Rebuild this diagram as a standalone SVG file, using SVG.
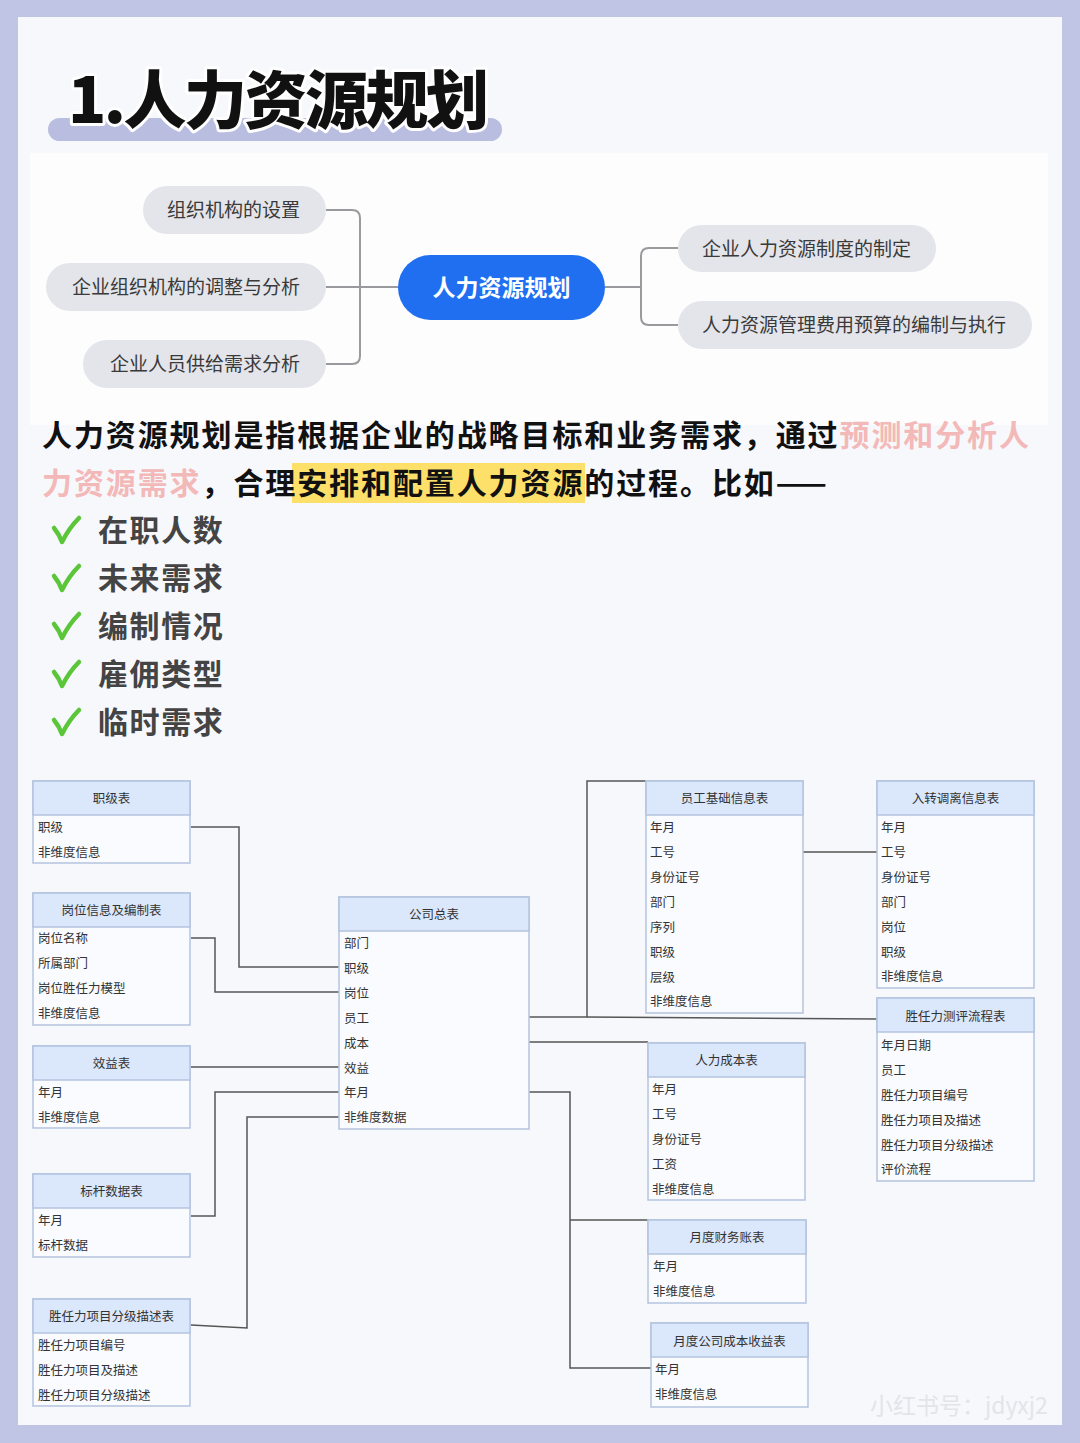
<svg xmlns="http://www.w3.org/2000/svg" width="1080" height="1443" viewBox="0 0 1080 1443">
<style>
.cjk{font-family:"Noto Sans CJK SC","Noto Sans",sans-serif}
.mm{fill:#e4e5ea}
.mmt{font-family:"Noto Sans CJK SC",sans-serif;font-size:19px;fill:#3a3a3a}
.tb{fill:#f9fbff;stroke:#b4c3de;stroke-width:1.5}
.th{fill:#dbe7fb;stroke:#b4c3de;stroke-width:1.5}
.tht{font-family:"Noto Sans CJK SC",sans-serif;font-size:12.5px;fill:#333;text-anchor:middle}
.tr{font-family:"Noto Sans CJK SC",sans-serif;font-size:12.5px;fill:#333}
.cn{fill:none;stroke:#555;stroke-width:1.5}
.mc{fill:none;stroke:#9a9a9e;stroke-width:2}
.p{font-family:"Noto Sans CJK SC",sans-serif;font-size:30px;font-weight:700;fill:#111;letter-spacing:1.9px}
.pink{fill:#f3b8b8}
.li{font-family:"Noto Sans CJK SC",sans-serif;font-size:30px;font-weight:700;fill:#444;letter-spacing:1.6px}
.ck{fill:none;stroke:#5cc63a;stroke-width:4.5;stroke-linecap:round;stroke-linejoin:round}
</style>
<rect x="0" y="0" width="1080" height="1443" fill="#c1c5e5"/>
<rect x="18" y="17" width="1044" height="1408" fill="#f7f8fc"/>
<rect x="30" y="153" width="1018" height="272" fill="#fdfdfe"/>

<g id="title">
<rect x="48" y="118" width="454" height="23" rx="11.5" fill="#b9bde0"/>
<text x="68" y="123" font-family="Noto Sans CJK SC,sans-serif" font-size="63" font-weight="900" fill="#111" stroke="#fff" stroke-width="6" paint-order="stroke" stroke-linejoin="round" letter-spacing="-2.5">1.人力资源规划</text>
</g>

<g id="mindmap-connectors">
<path class="mc" d="M326,210 H352 Q360,210 360,218 V356 Q360,364 352,364 H326"/>
<path class="mc" d="M326,287 H398"/>
<path class="mc" d="M605,287 H641"/>
<path class="mc" d="M678,248 H649 Q641,248 641,256 V317 Q641,325 649,325 H678"/>
</g>
<g id="mm-center">
<rect x="398" y="255" width="207" height="65" rx="32.5" fill="#1f6ff0"/>
<text x="501.5" y="296" font-family="Noto Sans CJK SC,sans-serif" font-size="23" font-weight="700" fill="#fff" text-anchor="middle">人力资源规划</text>
</g>
<g id="mm-1"><rect class="mm" x="143" y="186" width="183" height="48" rx="24"/><text class="mmt" x="300" y="217" text-anchor="end">组织机构的设置</text></g>
<g id="mm-2"><rect class="mm" x="46" y="263" width="280" height="48" rx="24"/><text class="mmt" x="300" y="294" text-anchor="end">企业组织机构的调整与分析</text></g>
<g id="mm-3"><rect class="mm" x="83" y="340" width="243" height="48" rx="24"/><text class="mmt" x="300" y="371" text-anchor="end">企业人员供给需求分析</text></g>
<g id="mm-4"><rect class="mm" x="678" y="225" width="258" height="47" rx="23.5"/><text class="mmt" x="702" y="256">企业人力资源制度的制定</text></g>
<g id="mm-5"><rect class="mm" x="678" y="301" width="354" height="48" rx="24"/><text class="mmt" x="702" y="332">人力资源管理费用预算的编制与执行</text></g>

<g id="paragraph">
<rect x="292" y="463" width="293" height="40" fill="#fde06a"/>
<text class="p" x="42" y="446">人力资源规划是指根据企业的战略目标和业务需求，通过<tspan class="pink">预测和分析人</tspan></text>
<text class="p" x="42" y="494"><tspan class="pink">力资源需求</tspan>，合理安排和配置人力资源的过程。比如——</text>
</g>

<g id="checklist">
<path class="ck" d="M54,528 Q59,534 62,542 Q69,528 79,518"/>
<text class="li" x="98" y="541">在职人数</text>
<path class="ck" d="M54,576 Q59,582 62,590 Q69,576 79,566"/>
<text class="li" x="98" y="589">未来需求</text>
<path class="ck" d="M54,624 Q59,630 62,638 Q69,624 79,614"/>
<text class="li" x="98" y="637">编制情况</text>
<path class="ck" d="M54,672 Q59,678 62,686 Q69,672 79,662"/>
<text class="li" x="98" y="685">雇佣类型</text>
<path class="ck" d="M54,720 Q59,726 62,734 Q69,720 79,710"/>
<text class="li" x="98" y="733">临时需求</text>
</g>

<g id="connectors">
<path class="cn" d="M191,827 H239 V967 H339"/>
<path class="cn" d="M191,938 H215 V992 H339"/>
<path class="cn" d="M191,1067 H339"/>
<path class="cn" d="M191,1216 H215 V1092 H339"/>
<path class="cn" d="M191,1325 L247,1328 V1117 H339"/>
<path class="cn" d="M529,1017 H587 V781 H646"/>
<path class="cn" d="M587,1017 L877,1019"/>
<path class="cn" d="M529,1042 H648"/>
<path class="cn" d="M529,1092 H570 V1368 H651"/>
<path class="cn" d="M570,1220 H648"/>
<path class="cn" d="M803,852 H877"/>
</g>

<g id="t-zhiji">
<rect class="tb" x="33" y="781" width="157" height="82"/><rect class="th" x="33" y="781" width="157" height="34"/>
<text class="tht" x="111.5" y="803">职级表</text>
<text class="tr" x="38" y="832">职级</text><text class="tr" x="38" y="857">非维度信息</text>
</g>
<g id="t-gangwei">
<rect class="tb" x="33" y="893" width="157" height="132"/><rect class="th" x="33" y="893" width="157" height="34"/>
<text class="tht" x="111.5" y="915">岗位信息及编制表</text>
<text class="tr" x="38" y="943">岗位名称</text><text class="tr" x="38" y="968">所属部门</text><text class="tr" x="38" y="993">岗位胜任力模型</text><text class="tr" x="38" y="1018">非维度信息</text>
</g>
<g id="t-xiaoyi">
<rect class="tb" x="33" y="1046" width="157" height="82"/><rect class="th" x="33" y="1046" width="157" height="34"/>
<text class="tht" x="111.5" y="1068">效益表</text>
<text class="tr" x="38" y="1097">年月</text><text class="tr" x="38" y="1122">非维度信息</text>
</g>
<g id="t-biaogan">
<rect class="tb" x="33" y="1174" width="157" height="83"/><rect class="th" x="33" y="1174" width="157" height="34"/>
<text class="tht" x="111.5" y="1196">标杆数据表</text>
<text class="tr" x="38" y="1225">年月</text><text class="tr" x="38" y="1250">标杆数据</text>
</g>
<g id="t-fenji">
<rect class="tb" x="33" y="1299" width="157" height="107"/><rect class="th" x="33" y="1299" width="157" height="34"/>
<text class="tht" x="111.5" y="1321">胜任力项目分级描述表</text>
<text class="tr" x="38" y="1350">胜任力项目编号</text><text class="tr" x="38" y="1375">胜任力项目及描述</text><text class="tr" x="38" y="1400">胜任力项目分级描述</text>
</g>
<g id="t-zongbiao">
<rect class="tb" x="339" y="897" width="190" height="232"/><rect class="th" x="339" y="897" width="190" height="34"/>
<text class="tht" x="434" y="919">公司总表</text>
<text class="tr" x="344" y="948">部门</text><text class="tr" x="344" y="973">职级</text><text class="tr" x="344" y="998">岗位</text><text class="tr" x="344" y="1023">员工</text><text class="tr" x="344" y="1048">成本</text><text class="tr" x="344" y="1073">效益</text><text class="tr" x="344" y="1097">年月</text><text class="tr" x="344" y="1122">非维度数据</text>
</g>
<g id="t-yuangong">
<rect class="tb" x="646" y="781" width="157" height="232"/><rect class="th" x="646" y="781" width="157" height="34"/>
<text class="tht" x="724.5" y="803">员工基础信息表</text>
<text class="tr" x="650" y="832">年月</text><text class="tr" x="650" y="857">工号</text><text class="tr" x="650" y="882">身份证号</text><text class="tr" x="650" y="907">部门</text><text class="tr" x="650" y="932">序列</text><text class="tr" x="650" y="957">职级</text><text class="tr" x="650" y="982">层级</text><text class="tr" x="650" y="1006">非维度信息</text>
</g>
<g id="t-ruzhuan">
<rect class="tb" x="877" y="781" width="157" height="207"/><rect class="th" x="877" y="781" width="157" height="34"/>
<text class="tht" x="955.5" y="803">入转调离信息表</text>
<text class="tr" x="881" y="832">年月</text><text class="tr" x="881" y="857">工号</text><text class="tr" x="881" y="882">身份证号</text><text class="tr" x="881" y="907">部门</text><text class="tr" x="881" y="932">岗位</text><text class="tr" x="881" y="957">职级</text><text class="tr" x="881" y="981">非维度信息</text>
</g>
<g id="t-ceping">
<rect class="tb" x="877" y="998" width="157" height="183"/><rect class="th" x="877" y="998" width="157" height="34"/>
<text class="tht" x="955.5" y="1021">胜任力测评流程表</text>
<text class="tr" x="881" y="1050">年月日期</text><text class="tr" x="881" y="1075">员工</text><text class="tr" x="881" y="1100">胜任力项目编号</text><text class="tr" x="881" y="1125">胜任力项目及描述</text><text class="tr" x="881" y="1150">胜任力项目分级描述</text><text class="tr" x="881" y="1174">评价流程</text>
</g>
<g id="t-chengben">
<rect class="tb" x="648" y="1043" width="157" height="157"/><rect class="th" x="648" y="1043" width="157" height="34"/>
<text class="tht" x="726.5" y="1065">人力成本表</text>
<text class="tr" x="652" y="1094">年月</text><text class="tr" x="652" y="1119">工号</text><text class="tr" x="652" y="1144">身份证号</text><text class="tr" x="652" y="1169">工资</text><text class="tr" x="652" y="1194">非维度信息</text>
</g>
<g id="t-caiwu">
<rect class="tb" x="648" y="1220" width="158" height="83"/><rect class="th" x="648" y="1220" width="158" height="34"/>
<text class="tht" x="727" y="1242">月度财务账表</text>
<text class="tr" x="653" y="1271">年月</text><text class="tr" x="653" y="1296">非维度信息</text>
</g>
<g id="t-shouyi">
<rect class="tb" x="651" y="1323" width="157" height="84"/><rect class="th" x="651" y="1323" width="157" height="34"/>
<text class="tht" x="729.5" y="1346">月度公司成本收益表</text>
<text class="tr" x="655" y="1374">年月</text><text class="tr" x="655" y="1399">非维度信息</text>
</g>

<text x="870" y="1414" font-family="Noto Sans CJK SC,sans-serif" font-size="23" fill="#e3e4ea">小红书号：jdyxj2</text>
</svg>
